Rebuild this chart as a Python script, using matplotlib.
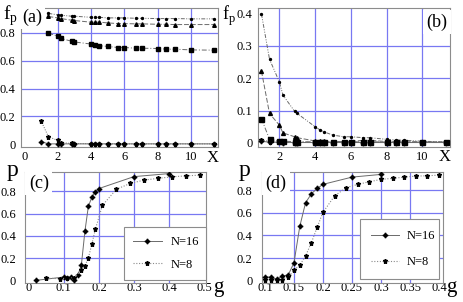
import matplotlib
matplotlib.use("Agg")
import matplotlib.pyplot as plt

plt.rcParams['font.family'] = ['Liberation Serif', 'DejaVu Serif']
plt.rcParams['mathtext.fontset'] = 'custom'
plt.rcParams['mathtext.rm'] = 'Liberation Serif'

# ── data ─────────────────────────────────────────────────────────────────────
x_vals = [1.0, 1.45, 2.0, 2.2, 2.85, 3.0, 4.0, 4.25, 4.5, 5.0, 5.6, 6.0,
          6.7, 7.05, 8.0, 8.5, 9.0, 10.0, 11.35]

# panel (a): first point of the upper three series sits under the label
a_dots = [0.940, 0.930, 0.927, 0.920, 0.920, 0.912, 0.912, 0.912, 0.908,
          0.908, 0.908, 0.905, 0.905, 0.903, 0.903, 0.903, 0.901, 0.901]
a_tri = [0.918, 0.908, 0.903, 0.891, 0.889, 0.877, 0.877, 0.877, 0.872,
         0.867, 0.867, 0.865, 0.865, 0.862, 0.862, 0.860, 0.860, 0.860]
a_sq = [0.800, 0.775, 0.760, 0.740, 0.735, 0.720, 0.712, 0.708, 0.703,
        0.695, 0.695, 0.690, 0.690, 0.688, 0.683, 0.683, 0.678, 0.676]
a_star = [0.170, 0.055, 0.028, 0.012, 0.006, 0.005, 0.004, 0.004, 0.004,
          0.003, 0.003, 0.003, 0.003, 0.003, 0.003, 0.003, 0.003, 0.003, 0.003]
a_diam = [0.020, 0.003, 0.003, 0.003, 0.003, 0.003, 0.003, 0.003, 0.003,
          0.003, 0.003, 0.003, 0.003, 0.003, 0.003, 0.003, 0.003, 0.003, 0.003]

# panel (b)
b_dots = [0.399, 0.259, 0.189, 0.148, 0.098, 0.091, 0.050, 0.041, 0.034,
          0.024, 0.019, 0.019, 0.016, 0.016, 0.011, 0.009, 0.008, 0.005, 0.003]
b_tri = [0.222, 0.091, 0.055, 0.031, 0.019, 0.016, 0.006, 0.005, 0.005,
         0.004, 0.004, 0.004, 0.008, 0.008, 0.004, 0.003, 0.003, 0.003, 0.002]
b_sq = [0.075, 0.011, 0.006, 0.005, 0.004, 0.004, 0.003, 0.003, 0.003,
        0.003, 0.003, 0.003, 0.003, 0.003, 0.003, 0.003, 0.003, 0.003, 0.002]
b_star = [0.010, 0.004, 0.003, 0.002, 0.002, 0.002, 0.002, 0.002, 0.002,
          0.002, 0.002, 0.002, 0.002, 0.002, 0.002, 0.002, 0.002, 0.002, 0.002]
b_diam = [0.005, 0.002, 0.002, 0.001, 0.001, 0.001, 0.001, 0.001, 0.001,
          0.001, 0.001, 0.001, 0.001, 0.001, 0.001, 0.001, 0.001, 0.001, 0.001]

# panel (c)
c_g16 = [0.02, 0.10, 0.11, 0.12, 0.13, 0.14, 0.15, 0.16, 0.17, 0.18, 0.19,
         0.20, 0.30, 0.40]
c_p16 = [0.005, 0.035, 0.025, 0.035, 0.012, 0.053, 0.142, 0.44, 0.665,
         0.745, 0.795, 0.822, 0.928, 0.955]
c_g8 = [0.05, 0.09, 0.11, 0.13, 0.15, 0.16, 0.17, 0.18, 0.19, 0.21, 0.25,
        0.29, 0.33, 0.37, 0.41, 0.45, 0.49]
c_p8 = [0.025, 0.020, 0.025, 0.030, 0.095, 0.133, 0.205, 0.330, 0.460,
        0.672, 0.816, 0.868, 0.898, 0.913, 0.927, 0.935, 0.942]

# panel (d)
d_g16 = [0.10, 0.11, 0.12, 0.13, 0.14, 0.15, 0.16, 0.17, 0.18, 0.19, 0.20,
         0.25, 0.30]
d_p16 = [0.035, 0.030, 0.012, 0.041, 0.050, 0.158, 0.480, 0.690, 0.768,
         0.816, 0.852, 0.916, 0.940]
d_g8 = [0.10, 0.11, 0.12, 0.13, 0.14, 0.15, 0.16, 0.17, 0.18, 0.19, 0.20,
        0.22, 0.24, 0.26, 0.28, 0.30, 0.32, 0.34, 0.36, 0.38, 0.40]
d_p8 = [0.008, 0.010, 0.003, 0.010, 0.030, 0.094, 0.137, 0.219, 0.336,
        0.473, 0.604, 0.750, 0.823, 0.852, 0.875, 0.896, 0.905, 0.916,
        0.925, 0.928, 0.934]

# ── styles ───────────────────────────────────────────────────────────────────
GRID = '#7878f2'
FRAME = '#8c8c8c'
LINE = '#6a6a6a'
DIAM = (4, 1, 0)

fig = plt.figure(figsize=(4.63, 3.02), dpi=100)
ax_a = fig.add_axes([0.045, 0.513, 0.426, 0.461])
ax_b = fig.add_axes([0.557, 0.513, 0.415, 0.461])
ax_c = fig.add_axes([0.054, 0.063, 0.391, 0.367])
ax_d = fig.add_axes([0.566, 0.063, 0.391, 0.367])


def frame(ax, gx, gy, ypad, xpad):
    for s in ax.spines.values():
        s.set_color(FRAME)
        s.set_linewidth(0.8)
    for v in gx:
        ax.axvline(v, color=GRID, lw=0.9, zorder=0)
    for v in gy:
        ax.axhline(v, color=GRID, lw=0.9, zorder=0)
    ax.tick_params(length=0, labelsize=9)
    ax.tick_params(axis='y', pad=ypad)
    ax.tick_params(axis='x', pad=xpad)


def series(ax, x, y, marker, ms, ls):
    ax.plot(x, y, color=LINE, lw=0.7, ls=ls, zorder=2)
    ax.plot(x, y, ls='none', marker=marker, ms=ms, color='black',
            mec='black', zorder=3)


# ── (a) ──────────────────────────────────────────────────────────────────────
series(ax_a, x_vals[1:], a_dots, 'o', 1.4, (0, (4, 1.5, 1, 1.5, 1, 1.5)))
series(ax_a, x_vals[1:], a_tri, '^', 2.6, (0, (5, 2)))
series(ax_a, x_vals[1:], a_sq, 's', 3.2, (0, (5, 2, 1, 2)))
series(ax_a, x_vals, a_star, '*', 3.6, (0, (1, 1.5)))
series(ax_a, x_vals, a_diam, DIAM, 3.6, '-')
ax_a.set_xlim(-0.2, 11.6)
ax_a.set_ylim(-0.02, 0.98)
ax_a.set_xticks([0, 2, 4, 6, 8, 10])
ax_a.set_yticks([0, 0.2, 0.4, 0.6, 0.8])
ax_a.set_yticklabels(['0', '0.2', '0.4', '0.6', '0.8'])
frame(ax_a, [2, 4, 6, 8, 10], [0.2, 0.4, 0.6, 0.8], 4, 2.5)

# ── (b) ──────────────────────────────────────────────────────────────────────
series(ax_b, x_vals, b_dots, 'o', 1.4, (0, (4, 1.5, 1, 1.5, 1, 1.5)))
series(ax_b, x_vals, b_tri, '^', 2.8, (0, (5, 2)))
series(ax_b, x_vals, b_sq, 's', 3.6, (0, (5, 2, 1, 2)))
series(ax_b, x_vals, b_star, '*', 3.6, (0, (1, 1.5)))
series(ax_b, x_vals, b_diam, DIAM, 3.6, '-')
ax_b.set_xlim(0.8, 11.55)
ax_b.set_ylim(-0.013, 0.418)
ax_b.set_xticks([2, 4, 6, 8, 10])
ax_b.set_yticks([0, 0.1, 0.2, 0.3, 0.4])
ax_b.set_yticklabels(['0', '0.1', '0.2', '0.3', '0.4'])
frame(ax_b, [2, 4, 6, 8, 10], [0.1, 0.2, 0.3], 4, 2.5)

# ── (c) ──────────────────────────────────────────────────────────────────────
ax_c.plot(c_g16, c_p16, color=LINE, lw=0.7, ls='-', marker=DIAM, ms=3.6,
          mfc='black', mec='black', label='N=16', zorder=3)
ax_c.plot(c_g8, c_p8, color='#8a8a8a', lw=0.8, ls=(0, (1, 1.5)), marker='*',
          ms=3.6, mfc='black', mec='black', label='N=8', zorder=3)
ax_c.set_xlim(-0.011, 0.506)
ax_c.set_ylim(-0.018, 0.968)
ax_c.set_xticks([0, 0.1, 0.2, 0.3, 0.4, 0.5])
ax_c.set_xticklabels(['0', '0.1', '0.2', '0.3', '0.4', '0.5'])
ax_c.set_yticks([0, 0.2, 0.4, 0.6, 0.8])
ax_c.set_yticklabels(['0', '0.2', '0.4', '0.6', '0.8'])
frame(ax_c, [0.1, 0.2, 0.3, 0.4], [0.2, 0.4, 0.6, 0.8], 6.5, -1)
leg = ax_c.legend(loc='center', bbox_to_anchor=(0.547, 0.036, 0.453, 0.459),
                  mode='expand', fontsize=9, handlelength=2.3,
                  handletextpad=0.7, labelspacing=0.85, borderpad=0.7,
                  borderaxespad=0, fancybox=False, framealpha=1,
                  edgecolor=FRAME)
leg.get_frame().set_linewidth(0.8)
leg.set_zorder(5)

# ── (d) ──────────────────────────────────────────────────────────────────────
ax_d.plot(d_g16, d_p16, color=LINE, lw=0.7, ls='-', marker=DIAM, ms=3.6,
          mfc='black', mec='black', label='N=16', zorder=3)
ax_d.plot(d_g8, d_p8, color='#8a8a8a', lw=0.8, ls=(0, (1, 1.5)), marker='*',
          ms=3.6, mfc='black', mec='black', label='N=8', zorder=3)
ax_d.set_xlim(0.095, 0.407)
ax_d.set_ylim(-0.02, 0.96)
ax_d.set_xticks([0.1, 0.15, 0.2, 0.25, 0.3, 0.35, 0.4])
ax_d.set_xticklabels(['0.1', '0.15', '0.2', '0.25', '0.3', '0.35', '0.4'])
ax_d.set_yticks([0, 0.2, 0.4, 0.6, 0.8])
ax_d.set_yticklabels(['0', '0.2', '0.4', '0.6', '0.8'])
frame(ax_d, [0.15, 0.2, 0.25, 0.3, 0.35], [0.2, 0.4, 0.6, 0.8], 7, -1)
leg = ax_d.legend(loc='center', bbox_to_anchor=(0.541, 0.045, 0.437, 0.523),
                  mode='expand', fontsize=9, handlelength=2.2,
                  handletextpad=0.6, labelspacing=1.1, borderpad=0.9,
                  borderaxespad=0, fancybox=False, framealpha=1,
                  edgecolor=FRAME)
leg.get_frame().set_linewidth(0.8)
leg.set_zorder(5)

# ── labels ───────────────────────────────────────────────────────────────────
box = dict(fc='white', ec='none', pad=2.5)
fig.text(0.069, 0.944, '(a)', fontsize=13, ha='center', va='center', bbox=box)
fig.text(0.944, 0.927, '(b)', fontsize=13, ha='center', va='center', bbox=box)
fig.text(0.084, 0.394, '(c)', fontsize=13, ha='center', va='center', bbox=box)
fig.text(0.596, 0.394, '(d)', fontsize=13, ha='center', va='center', bbox=box)

fig.text(0.022, 0.948, r'f$_\mathregular{p}$', fontsize=14, ha='center', va='center')
fig.text(0.494, 0.948, r'f$_\mathregular{p}$', fontsize=13, ha='center', va='center')
fig.text(0.46, 0.478, 'X', fontsize=12, ha='center', va='center')
fig.text(0.961, 0.481, 'X', fontsize=12, ha='center', va='center')
fig.text(0.028, 0.434, 'p', fontsize=17, ha='center', va='center')
fig.text(0.529, 0.434, 'p', fontsize=17, ha='center', va='center')
fig.text(0.472, 0.048, 'g', fontsize=15, ha='center', va='center')
fig.text(0.975, 0.048, 'g', fontsize=15, ha='center', va='center')

fig.savefig('out.png', dpi=100)
